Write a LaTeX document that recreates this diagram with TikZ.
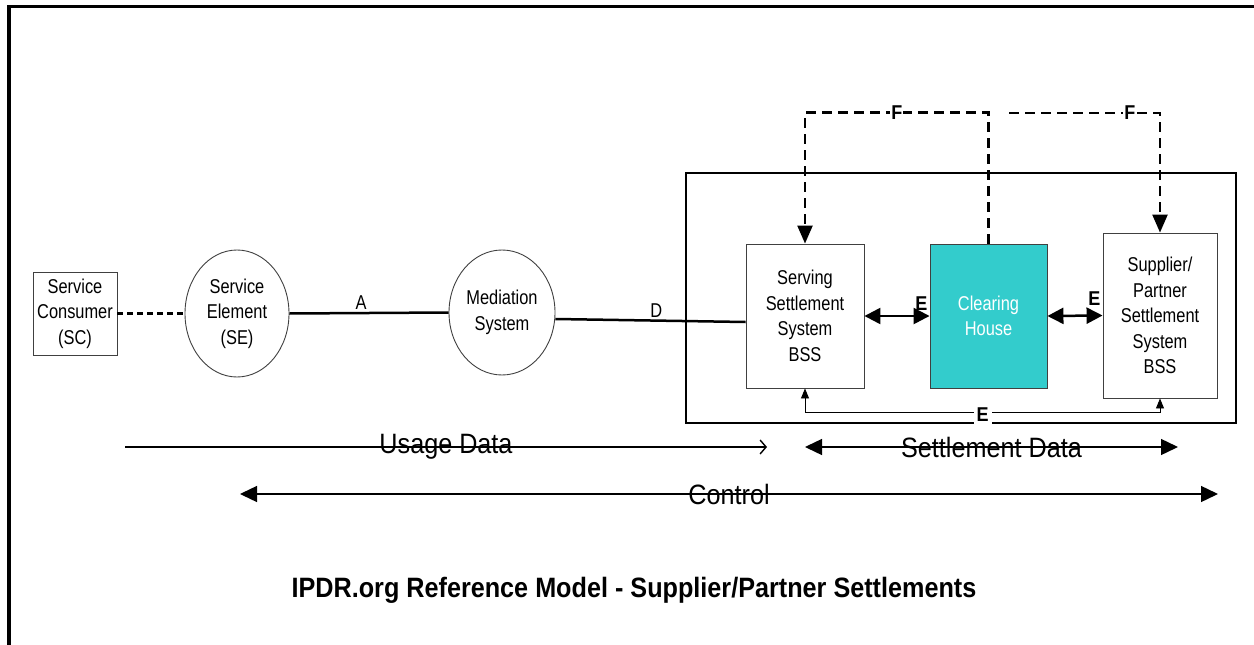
\documentclass[tikz,border=0pt]{standalone}
\usepackage{fontspec}
\setmainfont{Liberation Sans}[FakeStretch=0.82]
\newfontfamily\wideFont{Liberation Sans}[FakeStretch=0.9]
\usetikzlibrary{shapes.geometric}
\usetikzlibrary{arrows.meta}
\definecolor{clearingCyan}{HTML}{33CCCC}

\begin{document}
\begin{tikzpicture}
[x=1pt,y=-1pt,thick,%
  boxDecorate/.style={shape=rectangle,draw=black!75,line width=0.9pt,align=center,inner sep=0pt,font=\fontsize{20}{25.5}\selectfont},%
  ellipseDecorate/.style={shape=ellipse,draw=black!75,line width=0.9pt,align=center,inner sep=0pt,font=\fontsize{20}{25.5}\selectfont},%
  lineDecorate/.style={-,line width=2.5pt},%
  dashDecorate/.style={line width=2.4pt,dash pattern=on 10pt off 6pt},%
  biArrow/.style={{Triangle[length=16pt,width=16pt]}-{Triangle[length=16pt,width=16pt]},line width=2.5pt},%
  smallArrow/.style={{Triangle[length=10pt,width=8pt]}-{Triangle[length=10pt,width=8pt]},line width=0.9pt},%
  flowArrow/.style={{Triangle[length=17pt,width=16pt]}-{Triangle[length=17pt,width=16pt]},line width=1.4pt},%
  labelDecorate/.style={font=\fontsize{20}{22}\selectfont,inner sep=2pt},%
  eLabel/.style={font=\wideFont\bfseries\fontsize{20}{22}\selectfont,inner sep=1pt},%
  flowLabel/.style={font=\wideFont\fontsize{28}{30}\selectfont,inner sep=0pt}]
\useasboundingbox (0,0) rectangle (1254,645);
%% outer frame (top and left edge only)
\draw[line width=3.5pt] (9,645) -- (9,6.5) -- (1254,6.5);
%% settlement area
\draw[line width=1.4pt] (686,173) rectangle (1236,423);
%% nodes
\node[boxDecorate,minimum width=84pt,minimum height=83pt] (sc) at (75,313.5) {Service\\Consumer\\(SC)};
\node[ellipseDecorate,minimum width=104pt,minimum height=127pt] (se) at (237,313.5) {Service\\Element\\(SE)};
\node[ellipseDecorate,minimum width=106pt,minimum height=125pt] (med) at (502,312.5) {Mediation\\System};
\node[boxDecorate,minimum width=118pt,minimum height=144pt] (serv) at (805,316) {Serving\\Settlement\\System\\BSS};
\node[boxDecorate,fill=clearingCyan,text=white,minimum width=117pt,minimum height=144pt] (clear) at (988.5,316) {Clearing\\House};
\node[boxDecorate,minimum width=114pt,minimum height=165pt] (supp) at (1160,315.5) {Supplier/\\Partner\\Settlement\\System\\BSS};
%% usage chain
\draw[lineDecorate,line width=2.2pt,dash pattern=on 6pt off 4pt] (sc.east) -- (se.west);
\draw[lineDecorate] (se.east) -- node[pos=0.45,above,labelDecorate] {A} (med.west);
\draw[lineDecorate] ([yshift=-6.5pt]med.east) -- node[pos=0.53,above,labelDecorate] {D} ([yshift=-6pt]serv.west);
%% E interfaces
\draw[biArrow] (serv.east) -- (clear.west) node[eLabel,above left,yshift=3pt] {E};
\draw[biArrow] (clear.east) -- (supp.west) node[eLabel,above left,yshift=8pt] {E};
\draw[smallArrow] (serv.south) -- ++(0,24) -| node[pos=0.25,fill=white,eLabel,inner sep=3pt,yshift=-2pt] {E} (supp.south);
%% F interfaces
\coordinate (fStart) at (1009,113);
\draw[dashDecorate,-{Triangle[length=18pt,width=15pt]}] (clear.north) -- ++(0,-131) -| node[pos=0.25,fill=white,eLabel] {F} (serv.north);
\draw[dashDecorate,-{Triangle[length=18pt,width=15pt]}] (fStart) -| node[pos=0.4,fill=white,eLabel] {F} (supp.north);
%% data flows
\coordinate (usageStart) at (125,447);
\coordinate (usageEnd) at (767,447);
\coordinate (settleStart) at (805,447);
\coordinate (settleEnd) at (1178,447);
\coordinate (controlStart) at (240,494);
\coordinate (controlEnd) at (1218,494);
\draw[line width=1.4pt,-{Straight Barb[length=6pt,width=14pt]}] (usageStart) -- node[flowLabel] {Usage Data} (usageEnd);
\draw[flowArrow] (settleStart) -- node[flowLabel] {Settlement Data} (settleEnd);
\draw[flowArrow] (controlStart) -- node[flowLabel] {Control} (controlEnd);
%% caption
\node[font=\wideFont\bfseries\fontsize{28}{30}\selectfont] (title) at (634,590) {IPDR.org Reference Model - Supplier/Partner Settlements};
\end{tikzpicture}
\end{document}
